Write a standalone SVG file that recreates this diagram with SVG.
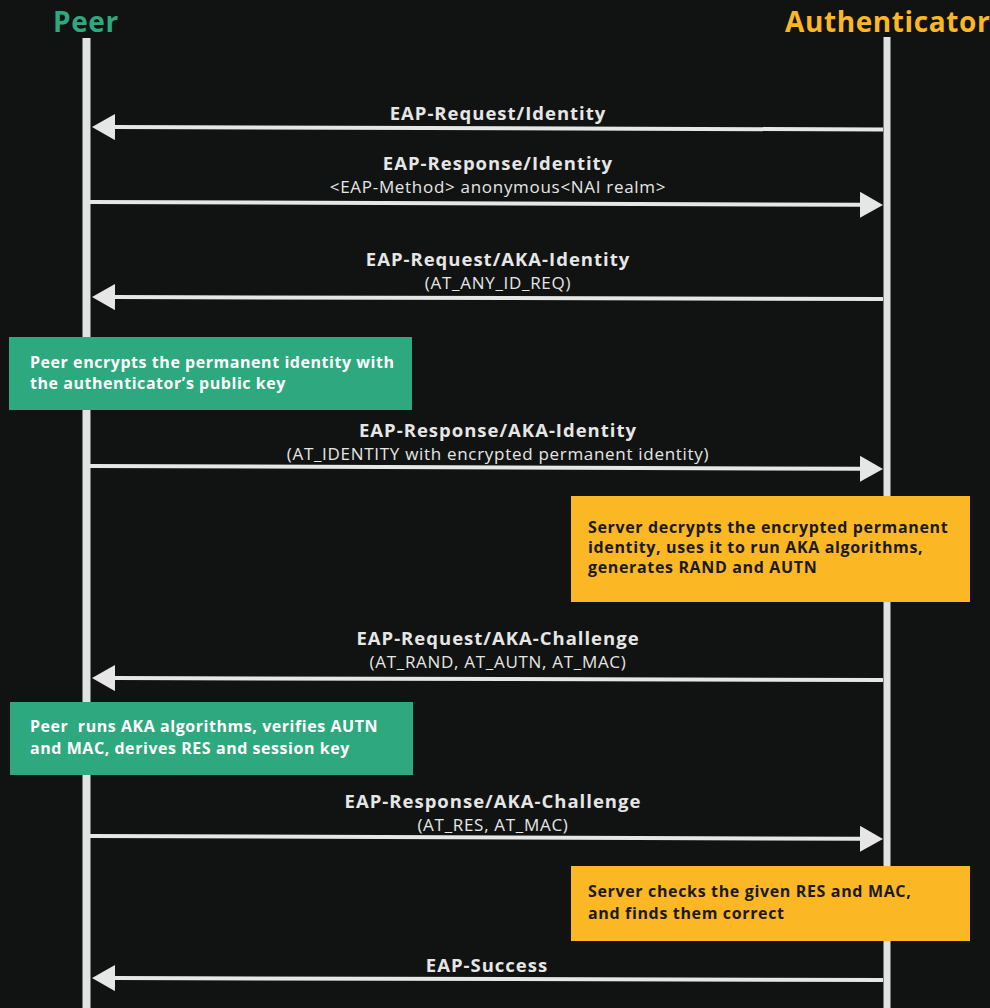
<svg xmlns="http://www.w3.org/2000/svg" width="990" height="1008" viewBox="0 0 990 1008">
<style>
.bg{fill:#111312}
.life{fill:#e1e3e2}
.msg{stroke:#e6e6e6;stroke-width:4;fill:none;marker-end:url(#ah)}
.lbl{font-family:"Open Sans","Liberation Sans",sans-serif;font-weight:700;font-size:18.5px;letter-spacing:1px;fill:#e6e6e6;text-anchor:middle}
.sub{font-family:"Open Sans","Liberation Sans",sans-serif;font-weight:400;font-size:17px;letter-spacing:0.7px;fill:#e6e6e6;text-anchor:middle}
.head{font-family:"Open Sans","Liberation Sans",sans-serif;font-weight:700;font-size:28px;letter-spacing:0.6px}
.gbox{fill:#2ea87e}
.obox{fill:#fbb724}
.gtxt{font-family:"Open Sans","Liberation Sans",sans-serif;font-weight:700;font-size:16px;letter-spacing:0.55px;fill:#ffffff}
.otxt{font-family:"Open Sans","Liberation Sans",sans-serif;font-weight:700;font-size:16px;letter-spacing:0.65px;fill:#1a1a1a}
</style>
<defs>
<marker id="ah" markerUnits="userSpaceOnUse" viewBox="0 0 23 26" refX="0" refY="13" markerWidth="23" markerHeight="26" orient="auto">
<path d="M0,0 L23,13 L0,26 Z" fill="#e6e6e6"/>
</marker>
</defs>
<rect class="bg" x="0" y="0" width="990" height="1008"/>
<g id="peer">
<text class="head" x="53" y="32" fill="#2ea87e">Peer</text>
<rect class="life" x="82.5" y="38" width="8" height="970"/>
</g>
<g id="authenticator">
<text class="head" x="785" y="32" fill="#fbb724">Authenticator</text>
<rect class="life" x="883.5" y="37" width="7" height="971"/>
</g>
<g id="connectors">
<path class="msg" d="M883,129.5 L115,127.1"/>
<path class="msg" d="M90,202 L860,204.8"/>
<path class="msg" d="M883,299 L115,297.1"/>
<path class="msg" d="M90,466 L860,468.8"/>
<path class="msg" d="M883,680 L115,678.1"/>
<path class="msg" d="M90,836 L860,838.8"/>
<path class="msg" d="M883,980 L115,978.1"/>
</g>
<g id="labels">
<text class="lbl" x="498" y="120">EAP-Request/Identity</text>
<text class="lbl" x="498" y="170">EAP-Response/Identity</text>
<text class="sub" x="498" y="193">&lt;EAP-Method&gt; anonymous&lt;NAI realm&gt;</text>
<text class="lbl" x="498" y="266">EAP-Request/AKA-Identity</text>
<text class="sub" x="498" y="289">(AT_ANY_ID_REQ)</text>
<text class="lbl" x="498" y="437">EAP-Response/AKA-Identity</text>
<text class="sub" x="498" y="460">(AT_IDENTITY with encrypted permanent identity)</text>
<text class="lbl" x="498" y="645">EAP-Request/AKA-Challenge</text>
<text class="sub" x="498" y="668">(AT_RAND, AT_AUTN, AT_MAC)</text>
<text class="lbl" x="493" y="808">EAP-Response/AKA-Challenge</text>
<text class="sub" x="493" y="831">(AT_RES, AT_MAC)</text>
<text class="lbl" x="487" y="972">EAP-Success</text>
</g>
<g id="peer-encrypts">
<rect class="gbox" x="9" y="337" width="403" height="73"/>
<text class="gtxt" x="30" y="368">Peer encrypts the permanent identity with</text>
<text class="gtxt" x="30" y="389">the authenticator’s public key</text>
</g>
<g id="server-decrypts">
<rect class="obox" x="571" y="496" width="399" height="106"/>
<text class="otxt" x="588" y="533">Server decrypts the encrypted permanent</text>
<text class="otxt" x="588" y="553">identity, uses it to run AKA algorithms,</text>
<text class="otxt" x="588" y="573">generates RAND and AUTN</text>
</g>
<g id="peer-runs">
<rect class="gbox" x="10" y="702" width="403" height="73"/>
<text class="gtxt" x="30" y="732" xml:space="preserve">Peer  runs AKA algorithms, verifies AUTN</text>
<text class="gtxt" x="30" y="754">and MAC, derives RES and session key</text>
</g>
<g id="server-checks">
<rect class="obox" x="571" y="866" width="399" height="75"/>
<text class="otxt" x="588" y="897">Server checks the given RES and MAC,</text>
<text class="otxt" x="588" y="919">and finds them correct</text>
</g>
</svg>
